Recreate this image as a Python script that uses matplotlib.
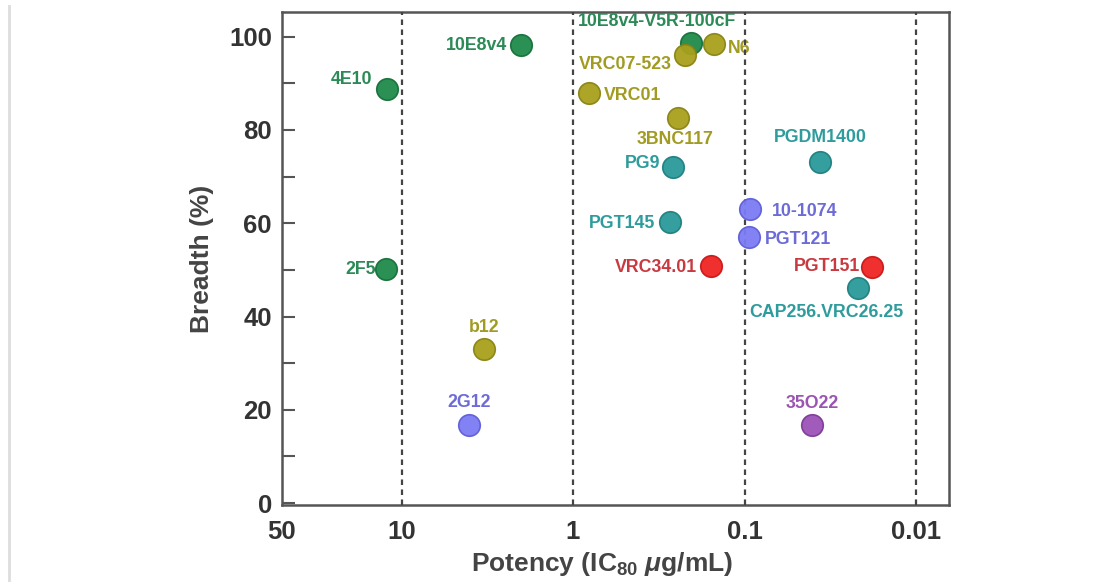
import matplotlib
matplotlib.use("Agg")
import matplotlib.pyplot as plt
from matplotlib.lines import Line2D

plt.rcParams['font.family'] = ['Liberation Sans', 'DejaVu Sans']
plt.rcParams['font.weight'] = 'bold'
plt.rcParams['mathtext.fontset'] = 'custom'
plt.rcParams['mathtext.rm'] = 'Liberation Sans:bold'
plt.rcParams['mathtext.it'] = 'Liberation Sans:italic:bold'
plt.rcParams['mathtext.bf'] = 'Liberation Sans:bold'

# anticorpos: potencia (IC80 ug/mL) y amplitud (%)
nombres = ["4E10", "10E8v4", "2F5", "b12", "2G12", "10E8v4-V5R-100cF", "N6",
           "VRC07-523", "VRC01", "3BNC117", "PG9", "PGDM1400", "PGT145",
           "10-1074", "PGT121", "VRC34.01", "PGT151", "CAP256.VRC26.25", "35O22"]
potencia = [12.1, 2.02, 12.3, 3.31, 4.05, 0.204, 0.151,
            0.223, 0.805, 0.244, 0.261, 0.0364, 0.273,
            0.093, 0.094, 0.156, 0.018, 0.0219, 0.0404]
amplitud = [88.7, 98.2, 50.1, 33.0, 16.8, 98.6, 98.4,
            96.1, 87.9, 82.5, 72.1, 73.1, 60.3,
            63.0, 57.1, 50.8, 50.6, 46.1, 16.8]
grupo = ["mper", "mper", "mper", "cd4", "glycan", "mper", "cd4",
         "cd4", "cd4", "cd4", "apex", "apex", "apex",
         "glycan", "glycan", "fusion", "fusion", "apex", "interface"]

# colores por grupo: (relleno, borde, texto)
colores = {
    "mper": ("#1f8a4a", "#17703b", "#2b8a55"),
    "cd4": ("#a8a01c", "#8a8414", "#a29b22"),
    "apex": ("#2a9a9a", "#1f7f80", "#2e9c9c"),
    "glycan": ("#7b7bf4", "#5e5ed8", "#6d6cd6"),
    "fusion": ("#f02424", "#c81818", "#c83a40"),
    "interface": ("#9c52b8", "#7d3b98", "#9a55b2"),
}

# desplazamiento de las etiquetas en pixeles (dx, dy, ha)
desp = {
    "4E10": (-15, 10, "right"), "10E8v4": (-14, 0, "right"), "2F5": (-10, 0, "right"),
    "b12": (0, 22, "center"), "2G12": (0, 22, "center"),
    "10E8v4-V5R-100cF": (-34, 22, "center"), "N6": (14, -4, "left"),
    "VRC07-523": (-13, -10, "right"), "VRC01": (15, -2, "left"),
    "3BNC117": (-3, -21, "center"), "PG9": (-13, 3, "right"),
    "PGDM1400": (0, 25, "center"), "PGT145": (-15, -2, "right"),
    "10-1074": (22, -2, "left"), "PGT121": (16, -3, "left"),
    "VRC34.01": (-14, -1, "right"), "PGT151": (-12, 1, "right"),
    "CAP256.VRC26.25": (-31, -24, "center"), "35O22": (0, 21, "center"),
}

fig = plt.figure(figsize=(11.05, 5.82), dpi=100)
ax = fig.add_axes([0.2549, 0.1323, 0.6039, 0.8471])

ax.set_xscale("log")
ax.set_xlim(50, 0.00643)
ax.set_ylim(-0.4, 105.3)

for xv in [10, 1, 0.1, 0.01]:
    ax.axvline(xv, color="#444444", lw=1.6, linestyle=(0, (2.5, 2)), zorder=4)

for n, xv, yv, g in zip(nombres, potencia, amplitud, grupo):
    relleno, borde, texto = colores[g]
    ax.scatter(xv, yv, s=240, color=relleno, edgecolor=borde, linewidth=1.2,
               alpha=0.95, zorder=5)
    dx, dy, ha = desp[n]
    ax.annotate(n, (xv, yv), xytext=(dx, dy), textcoords="offset pixels",
                ha=ha, va="center", fontsize=12.8, fontweight="bold",
                color=texto, zorder=3)

ax.set_xticks([50, 10, 1, 0.1, 0.01])
ax.set_xticklabels(["50", "10", "1", "0.1", "0.01"])
ax.minorticks_off()
ax.tick_params(axis="x", length=0, pad=11, labelsize=18.5, labelcolor="#333333")
ax.set_yticks([0, 20, 40, 60, 80, 100])
ax.set_yticks([10, 30, 50, 70, 90], minor=True)
ax.tick_params(axis="y", which="both", direction="in", length=9, width=1.5,
               color="#555555", pad=7, labelsize=18.5, labelcolor="#333333")

for s in ax.spines.values():
    s.set_color("#555555")
    s.set_linewidth(1.8)

ax.set_ylabel("Breadth (%)", fontsize=19, fontweight="bold", color="#444444", labelpad=11)
ax.set_xlabel("Potency (IC$_{80}$ $\\mu$g/mL)", fontsize=19, fontweight="bold",
              color="#444444", labelpad=8)
ax.xaxis.set_label_coords(0.48, -0.092)

# linea gris tenue en el borde izquierdo de la imagen
fig.add_artist(Line2D([0.008, 0.008], [0.0, 0.99], color="#dddddd", lw=2))

fig.savefig("out.png", dpi=100)
